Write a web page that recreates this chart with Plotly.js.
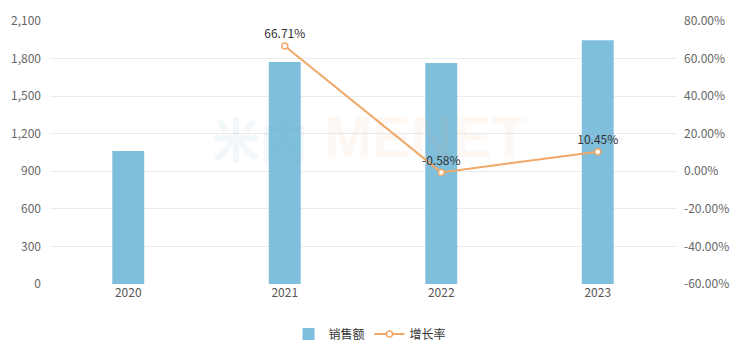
<!DOCTYPE html>
<html>
<head>
<meta charset="utf-8">
<script src="https://cdn.plot.ly/plotly-3.0.1.min.js"></script>
<style>html,body{margin:0;padding:0;background:#fff;}#chart{width:740px;height:353px;}</style>
</head>
<body>
<div id="chart"></div>
<script>
const years = ['2020', '2021', '2022', '2023'];
const sales = [1062, 1773, 1764, 1946];
const growthYears = ['2021', '2022', '2023'];
const growth = [66.71, -0.58, 10.45];
const growthLabels = ['66.71%', '-0.58%', '10.45%'];
const leftTicks = [0, 300, 600, 900, 1200, 1500, 1800, 2100];
const leftTickText = ['0', '300', '600', '900', '1,200', '1,500', '1,800', '2,100'];
const rightTicks = [-60, -40, -20, 0, 20, 40, 60, 80];
const rightTickText = ['-60.00%', '-40.00%', '-20.00%', '0.00%', '20.00%', '40.00%', '60.00%', '80.00%'];

const fontFam = '"Noto Sans CJK SC", "Noto Sans", sans-serif';

const data = [
  {
    type: 'bar', name: '销售额', x: years, y: sales,
    marker: {color: '#7FBFDB', line: {width: 0}},
    hoverinfo: 'none'
  },
  {
    type: 'scatter', mode: 'lines+markers+text', name: '增长率',
    x: growthYears, y: growth, yaxis: 'y2',
    text: growthLabels, textposition: 'top center',
    textfont: {size: 12, color: '#333', family: fontFam},
    line: {color: '#F0A868', width: 2},
    marker: {symbol: 'circle', size: 6, color: '#fff', line: {color: '#F0A868', width: 1.5}},
    cliponaxis: false,
    hoverinfo: 'none'
  }
];

const layout = {
  width: 740, height: 353,
  margin: {l: 50, r: 64, t: 21, b: 69},
  paper_bgcolor: '#fff', plot_bgcolor: '#fff',
  font: {family: fontFam, size: 12, color: '#666'},
  bargap: 0.796,
  showlegend: true,
  legend: {
    orientation: 'h', x: 0.5, xref: 'container', xanchor: 'center',
    y: 0.054, yref: 'container', yanchor: 'middle',
    font: {size: 12, color: '#333', family: fontFam},
    itemwidth: 30, traceorder: 'normal'
  },
  xaxis: {
    type: 'category', showgrid: false, zeroline: false, showline: false,
    ticks: '', tickfont: {size: 12, color: '#555'}, fixedrange: true
  },
  yaxis: {
    range: [0, 2100], tickvals: leftTicks, ticktext: leftTickText,
    showgrid: true, gridcolor: '#ebebeb', gridwidth: 1, zeroline: false, showline: false,
    ticks: '', ticklabelstandoff: 8, tickfont: {size: 12, color: '#666'}
  },
  yaxis2: {
    overlaying: 'y', side: 'right', range: [-60, 80],
    tickvals: rightTicks, ticktext: rightTickText,
    showgrid: false, zeroline: false, showline: false, ticks: '',
    ticklabelstandoff: 7, tickfont: {size: 12, color: '#666'}
  },
  annotations: [
    {xref: 'paper', yref: 'paper', x: 0.335, y: 0.56, xanchor: 'center', yanchor: 'middle',
     text: '<b>米内</b>', showarrow: false, font: {size: 48, color: 'rgba(120,170,200,0.09)', family: fontFam}},
    {xref: 'paper', yref: 'paper', x: 0.6, y: 0.56, xanchor: 'center', yanchor: 'middle',
     text: '<b>MENET</b>', showarrow: false, font: {size: 58, color: 'rgba(245,160,110,0.07)', family: '"Liberation Sans", Arial, sans-serif'}}
  ]
};

Plotly.newPlot('chart', data, layout, {displayModeBar: false, staticPlot: true});
</script>
</body>
</html>
